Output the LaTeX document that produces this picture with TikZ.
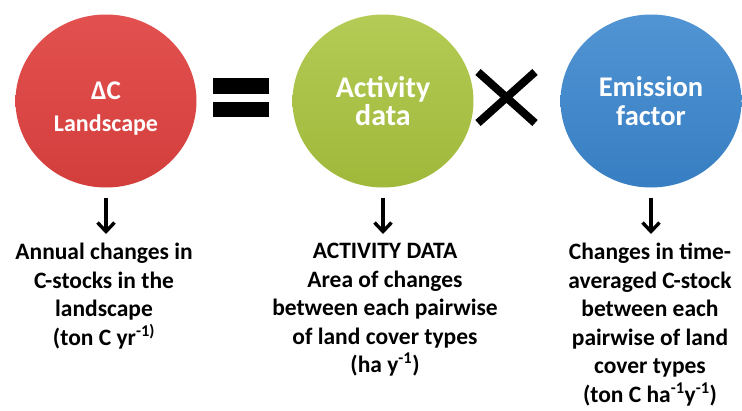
\documentclass[tikz,border=0pt]{standalone}
\usepackage{fontspec}
\setmainfont{Carlito}
\usetikzlibrary{shapes.geometric,arrows.meta}

\definecolor{ballred}{RGB}{224,66,64}
\definecolor{ballgreen}{RGB}{170,196,62}
\definecolor{ballblue}{RGB}{58,134,206}

\tikzset{
  ball/.style={ellipse, minimum width=181pt, minimum height=173pt, inner sep=0pt,
    text=white, align=center},
  note/.style={anchor=north, inner sep=0pt, align=center,
    font=\fontsize{23.5}{28.5}\selectfont\bfseries},
  down/.style={line width=3.4pt, -{Straight Barb[length=9pt,width=17pt,line width=3.4pt]},
    shorten <=10pt, shorten >=9pt}
}

\begin{document}
\begin{tikzpicture}[x=1pt,y=-1pt]
    \useasboundingbox (0,0) rectangle (742,410);
    % Draw the three circles
    \node[ball, top color=ballred!92!white, bottom color=ballred!94!black,
      font=\fontsize{24}{32}\selectfont\bfseries] (dc) at (106,101)
      {\rule{0pt}{32pt}{\fontsize{27}{30}\selectfont ΔC}\\Landscape};
    \node[ball, top color=ballgreen!88!white, bottom color=ballgreen!94!black,
      font=\fontsize{30}{28}\selectfont\bfseries] (act) at (383,101) {Activity\\data};
    \node[ball, top color=ballblue!88!white, bottom color=ballblue!94!black,
      font=\fontsize{28.5}{29}\selectfont\bfseries] (emf) at (651,101) {Emission\\factor};
    % Add the equals and times signs
    \fill[black] (213,78) rectangle (269,94);
    \fill[black] (213,102) rectangle (269,117);
    \draw[line width=8pt] (478,72) -- (535,123);
    \draw[line width=8pt] (478,123) -- (535,72);
    % Texts under the circles
    \node[note] (dctext) at (104,243) {Annual changes in\\C-stocks in the\\landscape\\(ton C yr\textsuperscript{-1)}};
    \node[note] (acttext) at (385,243) {ACTIVITY DATA\\Area of changes\\between each pairwise\\of land cover types\\(ha y\textsuperscript{-1})};
    \node[note] (emftext) at (650,243) {Changes in time-\\averaged C-stock\\between each\\pairwise of land\\cover types\\(ton C ha\textsuperscript{-1}y\textsuperscript{-1})};
    % Arrows
    \draw[down] (dc.south) -- (dc.south |- dctext.north);
    \draw[down] (act.south) -- (act.south |- acttext.north);
    \draw[down] (emf.south) -- (emf.south |- emftext.north);
\end{tikzpicture}
\end{document}
